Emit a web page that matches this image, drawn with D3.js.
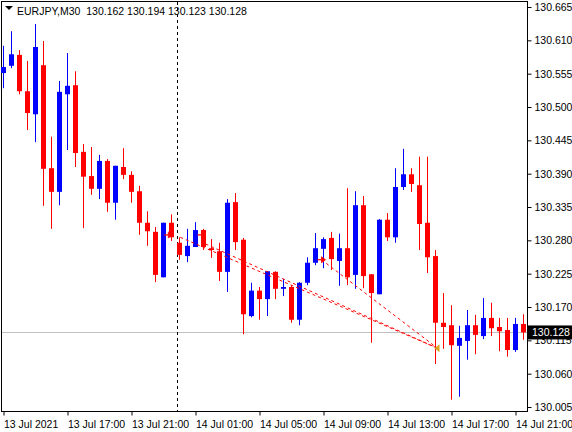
<!DOCTYPE html>
<html><head><meta charset="utf-8">
<script src="https://cdn.jsdelivr.net/npm/d3@7"></script>
<style>body{margin:0;background:#fff}svg{display:block;font-family:"Liberation Sans",Arial,sans-serif}</style>
</head><body><div id="chart"></div>
<script>
// M30 candles, EURJPY
var opens  = [130.556,130.568,130.586,130.526,130.488,130.569,130.399,130.360,130.521,130.536,130.426,130.386,130.365,130.411,130.342,130.401,130.388,130.361,130.309,130.294,130.219,130.309,130.276,130.254,130.269,130.297,130.267,130.262,130.228,130.343,130.281,130.155,130.197,130.183,130.228,130.200,130.203,130.149,130.210,130.243,130.266,130.284,130.246,130.267,130.223,130.338,130.224,130.191,130.314,130.285,130.368,130.389,130.371,130.309,130.254,130.144,130.140,130.106,130.114,130.140,130.122,130.152,130.137,130.132,130.099,130.142];
var highs  = [130.601,130.625,130.594,130.576,130.637,130.609,130.451,130.543,130.589,130.559,130.439,130.434,130.421,130.414,130.403,130.432,130.394,130.370,130.328,130.302,130.309,130.323,130.285,130.299,130.310,130.299,130.282,130.276,130.348,130.358,130.284,130.210,130.203,130.229,130.229,130.216,130.206,130.211,130.252,130.292,130.285,130.294,130.291,130.366,130.361,130.353,130.224,130.315,130.325,130.399,130.431,130.399,130.418,130.418,130.264,130.193,130.173,130.139,130.165,130.157,130.185,130.177,130.152,130.152,130.152,130.158];
var lows   = [130.531,130.564,130.521,130.462,130.442,130.337,130.299,130.338,130.429,130.401,130.300,130.355,130.348,130.327,130.314,130.381,130.342,130.289,130.271,130.211,130.219,130.279,130.248,130.244,130.269,130.264,130.251,130.213,130.195,130.264,130.125,130.153,130.149,130.155,130.183,130.188,130.144,130.140,130.206,130.239,130.234,130.231,130.205,130.206,130.200,130.201,130.111,130.191,130.279,130.276,130.363,130.360,130.264,130.226,130.076,130.101,130.017,130.022,130.083,130.092,130.117,130.122,130.097,130.088,130.096,130.116];
var closes = [130.566,130.587,130.526,130.490,130.599,130.398,130.360,130.525,130.535,130.424,130.385,130.365,130.411,130.342,130.403,130.388,130.360,130.309,130.295,130.223,130.309,130.285,130.256,130.271,130.297,130.269,130.264,130.228,130.342,130.277,130.158,130.197,130.183,130.229,130.200,130.203,130.149,130.210,130.243,130.267,130.282,130.249,130.267,130.219,130.338,130.221,130.193,130.314,130.285,130.368,130.389,130.373,130.307,130.252,130.144,130.137,130.107,130.119,130.140,130.124,130.152,130.135,130.130,130.099,130.142,130.128];

var priceTicks = [130.665,130.610,130.555,130.500,130.445,130.390,130.335,130.280,130.225,130.170,130.115,130.060,130.005];
var timeTickIdx = [0,8,16,24,32,40,48,56,64];
var timeLabels = ["13 Jul 2021","13 Jul 17:00","13 Jul 21:00","14 Jul 01:00","14 Jul 05:00","14 Jul 09:00","14 Jul 13:00","14 Jul 17:00","14 Jul 21:00"];

// trade history lines: [startIdx, startPrice, endIdx, endPrice]
var tradeLines = [[22.1,130.285,54.25,130.102],[25.25,130.274,54.25,130.102],[39.75,130.248,54.25,130.102]];
var entryIdx = [20.6,24.75,39.75];
var entryPrice = [130.289,130.289,130.248];
var exitIdx = 54.25, exitPrice = 130.102;

var bidPrice = 130.128;
var cursorIdx = 22;
var header = "EURJPY,M30  130.162 130.194 130.123 130.128";

var width = 572, height = 432;
var svg = d3.select("#chart").append("svg").attr("width", width).attr("height", height);

var x = d3.scaleLinear().domain([0, 65]).range([3.5, 523.5]);
var y = d3.scaleLinear().domain([130.005, 130.665]).range([407, 7]);

svg.append("rect").attr("x", 1.5).attr("y", 1.5).attr("width", 526).attr("height", 410)
    .attr("fill", "none").attr("stroke", "#000");

// bid line
svg.append("line").attr("x1", 2).attr("x2", 527).attr("y1", Math.round(y(bidPrice)) + 0.5).attr("y2", Math.round(y(bidPrice)) + 0.5)
    .attr("stroke", "#c0c0c0");

// vertical dashed line
svg.append("line").attr("x1", x(cursorIdx) - 2).attr("x2", x(cursorIdx) - 2).attr("y1", 2).attr("y2", 411)
    .attr("stroke", "#000").attr("stroke-dasharray", "3,3");

// candles
var idx = d3.range(opens.length);
var g = svg.append("g");
g.selectAll(".wick").data(idx).join("line")
    .attr("x1", i => x(i)).attr("x2", i => x(i))
    .attr("y1", i => y(highs[i])).attr("y2", i => y(lows[i]))
    .attr("stroke", i => closes[i] >= opens[i] ? "#0000ff" : "#ff0000");
g.selectAll(".body").data(idx).join("rect")
    .attr("x", i => x(i) - 2.5).attr("width", 5)
    .attr("y", i => y(Math.max(opens[i], closes[i])))
    .attr("height", i => Math.max(1.5, Math.abs(y(opens[i]) - y(closes[i]))))
    .attr("fill", i => closes[i] >= opens[i] ? "#0000ff" : "#ff0000");

// trade lines
svg.selectAll(".trade").data(tradeLines).join("line")
    .attr("x1", d => x(d[0])).attr("y1", d => y(d[1])).attr("x2", d => x(d[2])).attr("y2", d => y(d[3]))
    .attr("stroke", "#ff0000").attr("stroke-dasharray", "3,3");
svg.selectAll(".entry").data(entryIdx).join("path")
    .attr("d", (d, k) => { var px = x(d), py = y(entryPrice[k]); return "M" + (px - 4) + "," + py + "h4v-3l4,3l-4,3v-3z"; })
    .attr("fill", "#ff0000").attr("stroke", "#ff0000").attr("stroke-width", 0.8);
svg.append("path")
    .attr("d", "M" + (x(exitIdx) - 3) + "," + y(exitPrice) + "l5,-4v8z")
    .attr("fill", "#daa520");

// price axis
var yAxis = svg.append("g").attr("transform", "translate(527.5,0)")
    .call(d3.axisRight(y).tickValues(priceTicks).tickFormat(d3.format(".3f")).tickSize(4).tickSizeOuter(0));
yAxis.select(".domain").remove();
yAxis.selectAll("text").attr("font-size", 10.5).attr("fill", "#000").attr("font-family", "Liberation Sans, Arial");

// bid label
var bl = svg.append("g").attr("transform", "translate(528," + y(bidPrice) + ")");
bl.append("rect").attr("x", 0).attr("y", -7).attr("width", 44).attr("height", 14).attr("fill", "#000");
bl.append("text").attr("x", 4).attr("y", 4).attr("fill", "#fff").attr("font-size", 10.5).text(bidPrice.toFixed(3));

// time axis
var xAxis = svg.append("g").attr("transform", "translate(0,411.5)")
    .call(d3.axisBottom(x).tickValues(timeTickIdx).tickFormat((d, k) => timeLabels[k]).tickSize(4).tickSizeOuter(0));
xAxis.select(".domain").remove();
xAxis.selectAll("text").attr("text-anchor", "start").attr("x", 0).attr("dy", "0.9em")
    .attr("font-size", 10.5).attr("fill", "#000");

// header
svg.append("path").attr("d", "M5,6h8l-4,4z").attr("fill", "#000");
svg.append("text").attr("x", 17).attr("y", 15).attr("font-size", 10.5).attr("xml:space", "preserve")
    .style("white-space", "pre").text(header);
</script></body></html>
